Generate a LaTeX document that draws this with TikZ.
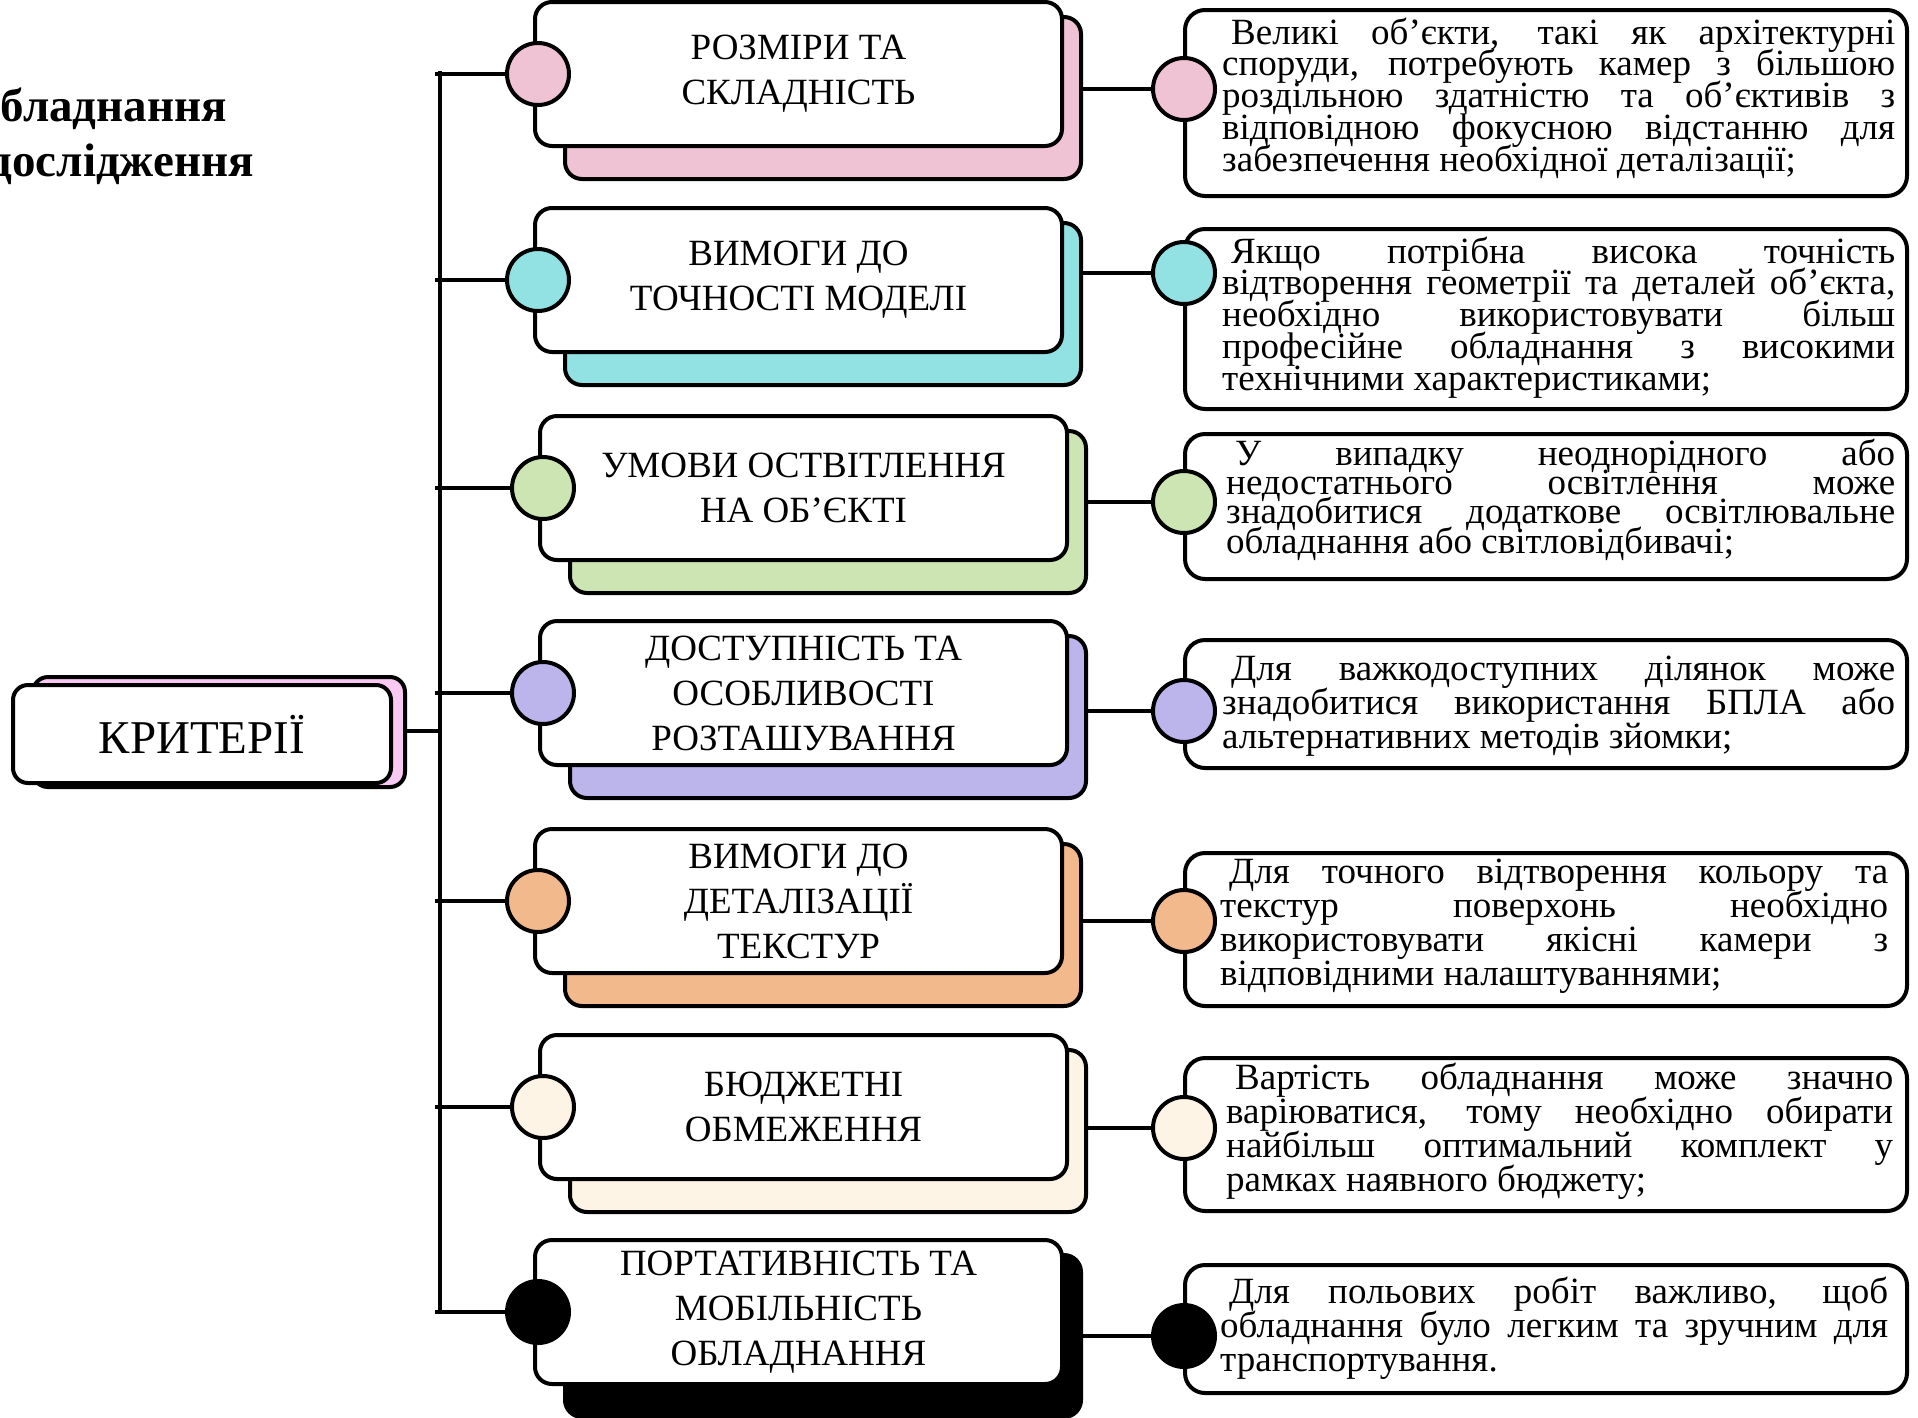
\documentclass[tikz,border=0pt]{standalone}
\usepackage{fontspec}
\setmainfont{Liberation Serif}
\usetikzlibrary{calc}
\definecolor{cpink}{HTML}{EFC3D4}
\definecolor{ccyan}{HTML}{93E2E3}
\definecolor{cgreen}{HTML}{CDE5B2}
\definecolor{cpurple}{HTML}{BBB5EC}
\definecolor{corange}{HTML}{F2B98D}
\definecolor{ccream}{HTML}{FEF4E5}
\definecolor{cblk}{HTML}{000000}
\definecolor{ckrit}{HTML}{F9C9F3}
\newdimen\tw
\newcommand{\jl}[1]{\hbox to \tw{#1}}
\newcommand{\lastline}[1]{\hbox{#1}}
\newcommand{\ind}{\hspace*{9pt}}
\tikzset{
  frontbox/.style={draw, line width=4pt, rounded corners=17pt, fill=white,
    minimum width=527pt, minimum height=144pt, inner sep=0pt, align=center,
    font=\fontsize{37}{45}\selectfont},
  backbox/.style={draw, line width=4pt, rounded corners=17pt,
    minimum width=516pt, minimum height=162pt, inner sep=0pt},
  dot/.style={circle, draw, line width=4pt, minimum size=62pt, inner sep=0pt},
  rbox/.style={draw, line width=4pt, rounded corners=20pt, fill=white,
    minimum width=722pt, inner sep=0pt},
  conn/.style={line width=3.5pt},
  rtext/.style={anchor=base west, inner sep=0pt, font=\fontsize{37}{32}\selectfont},
  titletext/.style={anchor=base east, inner sep=0pt, font=\fontsize{47}{55}\selectfont\bfseries},
}
% #1 name, #2 left, #3 top, #4 colour, #5 text
\newcommand{\midbox}[5]{%
  \node[backbox, fill=#4] (b#1) at (#2+288, #3+96) {};
  \node[frontbox] (f#1) at (#2+263.5, #3+72) {#5};
  \coordinate (t#1) at (435, #3+72);
  \draw[conn] (t#1) -- (f#1.west);
  \node[dot, fill=#4] (c#1) at (#2+3, #3+72) {};
}
% #1 name, #2 top, #3 bottom, #4 circle y, #5 colour
\newcommand{\rightbox}[5]{%
  \node[rbox, minimum height={#3-#2}] (r#1) at (1546, {(#2+#3)/2}) {};
  \draw[conn] (b#1.east |- 1184,#4) -- (1184,#4) coordinate (rj#1);
  \node[dot, fill=#5] (rc#1) at (rj#1) {};
}
\begin{document}
\begin{tikzpicture}[x=1pt, y=-1pt]
\useasboundingbox (0,0) rectangle (1918,1417);
\fill[white] (0,0) rectangle (1918,1417);

% title (clipped at left edge)
\node[titletext] (title1) at (227,121) {обладнання};
\node[titletext] (title2) at (254,176) {дослідження};

% trunk
\coordinate (ttop) at (440,71);
\coordinate (tbot) at (440,1312);
\draw[line width=4pt] (ttop) -- (tbot);

% criteria box
\node[draw, line width=4pt, rounded corners=15pt, fill=ckrit, minimum width=372pt,
  minimum height=110pt, inner sep=0pt] (kb) at (219,732) {};
\node[draw, line width=4pt, rounded corners=15pt, fill=white, minimum width=378pt,
  minimum height=98pt, inner sep=0pt, font=\fontsize{47}{55}\selectfont] (kf) at (202,734) {КРИТЕРІЇ};
\coordinate (tk) at (440,731);
\draw[conn] (kb.east |- tk) -- (tk);

% middle boxes
\midbox{1}{535}{2}{cpink}{РОЗМІРИ ТА\\СКЛАДНІСТЬ}
\midbox{2}{535}{208}{ccyan}{ВИМОГИ ДО\\ТОЧНОСТІ МОДЕЛІ}
\midbox{3}{540}{416}{cgreen}{УМОВИ ОСТВІТЛЕННЯ\\НА ОБ’ЄКТІ}
\midbox{4}{540}{621}{cpurple}{ДОСТУПНІСТЬ ТА\\ОСОБЛИВОСТІ\\РОЗТАШУВАННЯ}
\midbox{5}{535}{829}{corange}{ВИМОГИ ДО\\ДЕТАЛІЗАЦІЇ\\ТЕКСТУР}
\midbox{6}{540}{1035}{ccream}{БЮДЖЕТНІ\\ОБМЕЖЕННЯ}
\midbox{7}{535}{1240}{cblk}{ПОРТАТИВНІСТЬ ТА\\МОБІЛЬНІСТЬ\\ОБЛАДНАННЯ}

% right boxes
\rightbox{1}{10}{196}{89}{cpink}
\rightbox{2}{229}{409}{273}{ccyan}
\rightbox{3}{434}{579}{502}{cgreen}
\rightbox{4}{640}{768}{711}{cpurple}
\rightbox{5}{853}{1006}{921}{corange}
\rightbox{6}{1058}{1211}{1128}{ccream}
\rightbox{7}{1265}{1393}{1336}{cblk}

% right texts
\node[rtext] (rt1) at (1222,44) {\tw=673pt\vtop{\baselineskip=31.8pt\lineskiplimit=-100pt
  \jl{\ind Великі об'єкти, такі як архітектурні}
  \jl{споруди, потребують камер з більшою}
  \jl{роздільною здатністю та об'єктивів з}
  \jl{відповідною фокусною відстанню для}
  \lastline{забезпечення необхідної деталізації;}}};
\node[rtext] (rt2) at (1222,263) {\tw=673pt\vtop{\baselineskip=31.8pt\lineskiplimit=-100pt
  \jl{\ind Якщо потрібна висока точність}
  \jl{відтворення геометрії та деталей об'єкта,}
  \jl{необхідно використовувати більш}
  \jl{професійне обладнання з високими}
  \lastline{технічними характеристиками;}}};
\node[rtext] (rt3) at (1226,465) {\tw=669pt\vtop{\baselineskip=29.4pt\lineskiplimit=-100pt
  \jl{\ind У випадку неоднорідного або}
  \jl{недостатнього освітлення може}
  \jl{знадобитися додаткове освітлювальне}
  \lastline{обладнання або світловідбивачі;}}};
\node[rtext] (rt4) at (1222,680) {\tw=673pt\vtop{\baselineskip=34pt\lineskiplimit=-100pt
  \jl{\ind Для важкодоступних ділянок може}
  \jl{знадобитися використання БПЛА або}
  \lastline{альтернативних методів зйомки;}}};
\node[rtext] (rt5) at (1220,883) {\tw=668pt\vtop{\baselineskip=34pt\lineskiplimit=-100pt
  \jl{\ind Для точного відтворення кольору та}
  \jl{текстур поверхонь необхідно}
  \jl{використовувати якісні камери з}
  \lastline{відповідними налаштуваннями;}}};
\node[rtext] (rt6) at (1226,1089) {\tw=667pt\vtop{\baselineskip=34pt\lineskiplimit=-100pt
  \jl{\ind Вартість обладнання може значно}
  \jl{варіюватися, тому необхідно обирати}
  \jl{найбільш оптимальний комплект у}
  \lastline{рамках наявного бюджету;}}};
\node[rtext] (rt7) at (1220,1303) {\tw=668pt\vtop{\baselineskip=34pt\lineskiplimit=-100pt
  \jl{\ind Для польових робіт важливо, щоб}
  \jl{обладнання було легким та зручним для}
  \lastline{транспортування.}}};
\end{tikzpicture}
\end{document}
